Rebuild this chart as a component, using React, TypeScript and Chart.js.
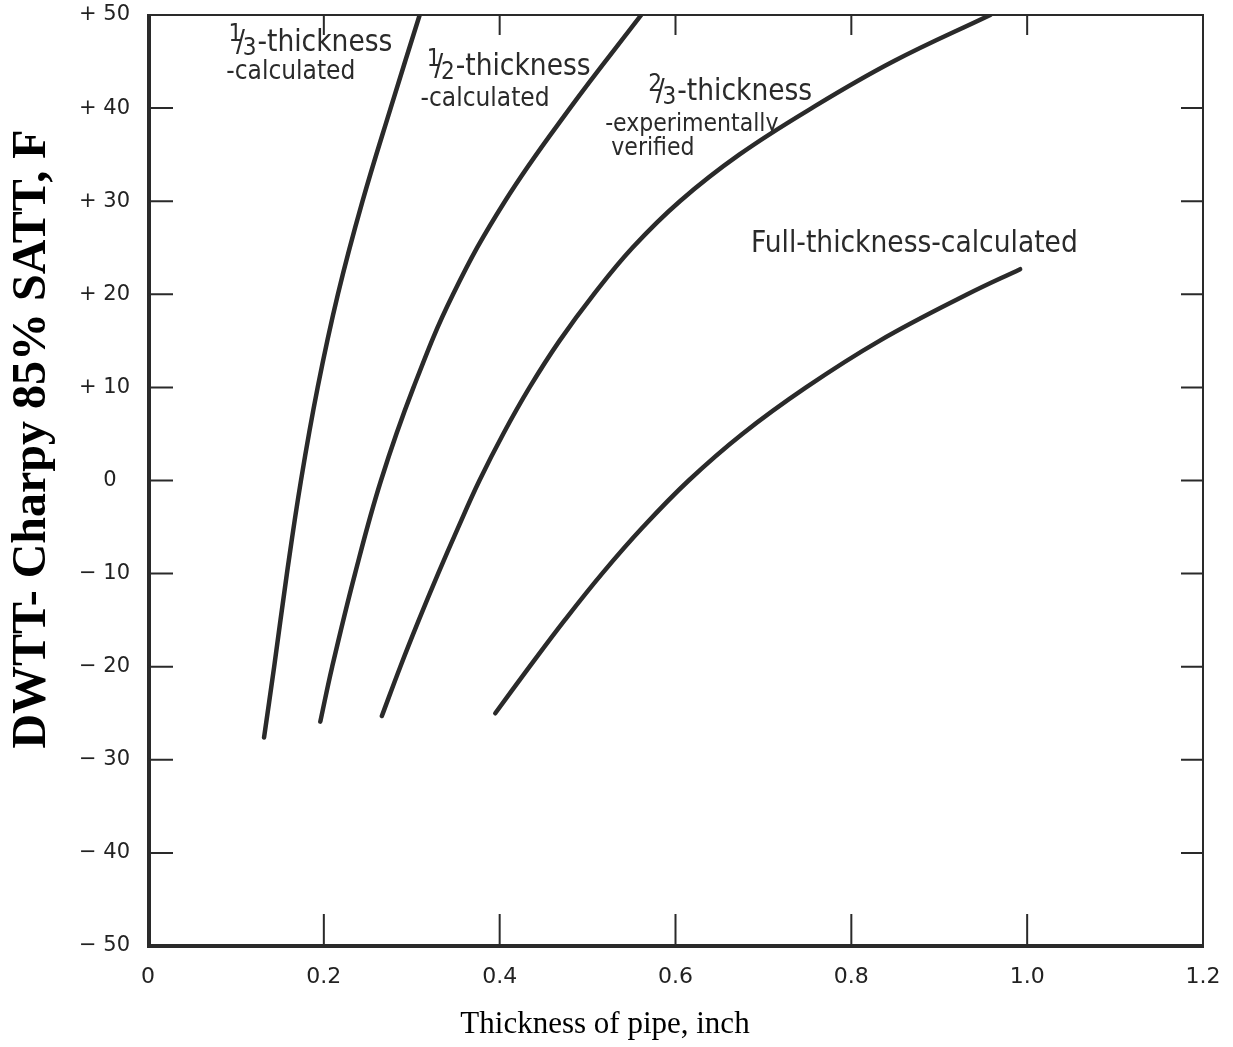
import React, { useEffect, useRef } from 'react';
import { Chart, registerables } from 'chart.js';

Chart.register(...registerables);

// ---- data ----
const thirdX = [0.132, 0.1435, 0.158, 0.174, 0.193, 0.216, 0.244, 0.276, 0.309];
const thirdY = [-27.6, -20, -10, 0, 10, 20, 30, 40, 50];

const halfX = [0.196, 0.2095, 0.2355, 0.265, 0.302, 0.347, 0.406, 0.48, 0.561];
const halfY = [-25.9, -20, -10, 0, 10, 20, 30, 40, 50];

const twoThirdX = [0.266, 0.287, 0.308, 0.33, 0.353, 0.377, 0.404, 0.434, 0.468, 0.507, 0.551, 0.605, 0.6725, 0.755, 0.8475, 0.958];
const twoThirdY = [-25.3, -20, -15, -10, -5, 0, 5, 10, 15, 20, 25, 30, 35, 40, 45, 50];

const fullX = [0.395, 0.434, 0.474, 0.5165, 0.563, 0.615, 0.676, 0.7485, 0.832, 0.932, 0.992];
const fullY = [-25, -20, -15, -10, -5, 0, 5, 10, 15, 20, 22.7];

const xTickValues = [0, 0.2, 0.4, 0.6, 0.8, 1.0, 1.2];
const xTickLabels = ['0', '0.2', '0.4', '0.6', '0.8', '1.0', '1.2'];
const yTickValues = [-50, -40, -30, -20, -10, 0, 10, 20, 30, 40, 50];
const yTickLabels = ['\u2212 50', '\u2212 40', '\u2212 30', '\u2212 20', '\u2212 10', '0\u2007', '+ 10', '+ 20', '+ 30', '+ 40', '+ 50'];
const xMarkValues = [0.2, 0.4, 0.6, 0.8, 1.0];
const yMarkValues = [-40, -30, -20, -10, 0, 10, 20, 30, 40];

const xTitle = 'Thickness of pipe, inch';
const yTitle = 'DWTT- Charpy 85% SATT, F';

// curve annotations (optional stacked fraction in front of the text)
const curveLabels: { num?: string; den?: string; text: string; x: number; y: number; size: number }[] = [
  { num: '1', den: '3', text: '-thickness', x: 0.0915, y: 47.0, size: 29.5 },
  { text: '-calculated', x: 0.089, y: 43.8, size: 26 },
  { num: '1', den: '2', text: '-thickness', x: 0.317, y: 44.4, size: 29.5 },
  { text: '-calculated', x: 0.31, y: 40.9, size: 26 },
  { num: '2', den: '3', text: '-thickness', x: 0.569, y: 41.7, size: 29.5 },
  { text: '-experimentally', x: 0.52, y: 38.2, size: 24.5 },
  { text: 'verified', x: 0.527, y: 35.6, size: 24.5 },
  { text: 'Full-thickness-calculated', x: 0.686, y: 25.4, size: 29.5 },
];

const INK = '#2a2a2a';
const LABEL_FONT = '"DejaVu Sans Condensed", "Liberation Sans Narrow", Roboto, sans-serif';
const TICK_FONT = '"DejaVu Sans", sans-serif';

const toPts = (xs: number[], ys: number[]) => xs.map((x, i) => ({ x, y: ys[i] }));

const framePlugin = {
  id: 'frameAndMarks',
  afterDatasetsDraw(chart: any) {
    const { ctx, chartArea: a, scales } = chart;
    const xs = scales.x, ys = scales.y;
    ctx.save();
    ctx.strokeStyle = INK;
    ctx.lineCap = 'butt';
    // thin top and right
    ctx.lineWidth = 2;
    ctx.beginPath();
    ctx.moveTo(a.left, a.top);
    ctx.lineTo(a.right, a.top);
    ctx.lineTo(a.right, a.bottom);
    ctx.stroke();
    // thick left and bottom
    ctx.lineWidth = 4;
    ctx.beginPath();
    ctx.moveTo(a.left + 1, a.top - 1);
    ctx.lineTo(a.left + 1, a.bottom);
    ctx.lineTo(a.right + 1, a.bottom);
    ctx.stroke();
    // inward tick marks
    ctx.lineWidth = 2;
    ctx.beginPath();
    xMarkValues.forEach((v) => {
      const px = xs.getPixelForValue(v);
      ctx.moveTo(px, a.bottom);
      ctx.lineTo(px, a.bottom - 32);
      ctx.moveTo(px, a.top);
      ctx.lineTo(px, a.top + 20);
    });
    yMarkValues.forEach((v) => {
      const py = ys.getPixelForValue(v);
      ctx.moveTo(a.left, py);
      ctx.lineTo(a.left + 25, py);
      ctx.moveTo(a.right, py);
      ctx.lineTo(a.right - 22, py);
    });
    ctx.stroke();

    // curve labels
    ctx.fillStyle = INK;
    ctx.textBaseline = 'middle';
    ctx.textAlign = 'left';
    curveLabels.forEach((l) => {
      const size = l.size;
      let px = xs.getPixelForValue(l.x);
      const py = ys.getPixelForValue(l.y);
      if (l.num && l.den) {
        const small = Math.round(size * 0.82);
        ctx.font = `${small}px ${LABEL_FONT}`;
        ctx.fillText(l.num, px, py - size * 0.26);
        const wn = ctx.measureText(l.num).width;
        ctx.font = `${size}px ${LABEL_FONT}`;
        const sx = px + wn * 0.55;
        ctx.fillText('/', sx, py);
        const ws = ctx.measureText('/').width;
        ctx.font = `${small}px ${LABEL_FONT}`;
        const dx = sx + ws * 0.75;
        ctx.fillText(l.den, dx, py + size * 0.2);
        px = dx + ctx.measureText(l.den).width + 1;
      }
      ctx.font = `${size}px ${LABEL_FONT}`;
      ctx.fillText(l.text, px, py);
    });

    // axis titles
    ctx.fillStyle = '#000';
    ctx.font = '31px "Liberation Serif", serif';
    ctx.textAlign = 'center';
    ctx.textBaseline = 'middle';
    ctx.fillText(xTitle, 605, 1025);

    ctx.translate(45, 439);
    ctx.rotate(-Math.PI / 2);
    ctx.font = 'bold 48px "Liberation Serif", serif';
    ctx.textBaseline = 'alphabetic';
    ctx.fillText(yTitle, 0, 0);
    ctx.restore();
  },
};

export default function App() {
  const ref = useRef<HTMLCanvasElement | null>(null);

  useEffect(() => {
    document.body.style.margin = '0';
    const canvas = ref.current!;
    const lineStyle = {
      showLine: true,
      borderColor: INK,
      borderWidth: 4.5,
      pointRadius: 0,
      pointHoverRadius: 0,
      tension: 0.4,
      borderCapStyle: 'round' as const,
      borderJoinStyle: 'round' as const,
      fill: false,
    };
    const chart = new Chart(canvas, {
      type: 'scatter',
      data: {
        datasets: [
          { label: '1/3-thickness-calculated', data: toPts(thirdX, thirdY), ...lineStyle },
          { label: '1/2-thickness-calculated', data: toPts(halfX, halfY), ...lineStyle },
          { label: '2/3-thickness-experimentally verified', data: toPts(twoThirdX, twoThirdY), ...lineStyle },
          { label: 'Full-thickness-calculated', data: toPts(fullX, fullY), ...lineStyle },
        ],
      },
      options: {
        animation: false,
        responsive: false,
        devicePixelRatio: 1,
        layout: { padding: { top: 15, right: 30, left: 0, bottom: 0 } },
        plugins: { legend: { display: false }, tooltip: { enabled: false } },
        events: [],
        scales: {
          x: {
            type: 'linear',
            min: 0,
            max: 1.2,
            afterBuildTicks: (s: any) => {
              s.ticks = xTickValues.map((v) => ({ value: v }));
            },
            afterFit: (s: any) => {
              s.height = 101;
              s.paddingLeft = 0;
              s.paddingRight = 0;
            },
            grid: { display: false, drawTicks: false },
            border: { display: false },
            ticks: {
              autoSkip: false,
              maxRotation: 0,
              padding: 18,
              color: '#222',
              font: { family: TICK_FONT, size: 22 },
              callback: (_v: any, i: number) => xTickLabels[i],
            },
          },
          y: {
            type: 'linear',
            min: -50,
            max: 50,
            afterBuildTicks: (s: any) => {
              s.ticks = yTickValues.map((v) => ({ value: v }));
            },
            afterFit: (s: any) => {
              s.width = 148;
              s.paddingTop = 0;
              s.paddingBottom = 0;
            },
            grid: { display: false, drawTicks: false },
            border: { display: false },
            ticks: {
              autoSkip: false,
              padding: 18,
              color: '#222',
              font: { family: TICK_FONT, size: 21 },
              callback: (_v: any, i: number) => yTickLabels[i],
            },
          },
        },
      },
      plugins: [framePlugin],
    });
    return () => chart.destroy();
  }, []);

  return (
    <div style={{ width: 1233, height: 1047, background: '#fff' }}>
      <canvas ref={ref} width={1233} height={1047} style={{ display: 'block', width: 1233, height: 1047 }} />
    </div>
  );
}
